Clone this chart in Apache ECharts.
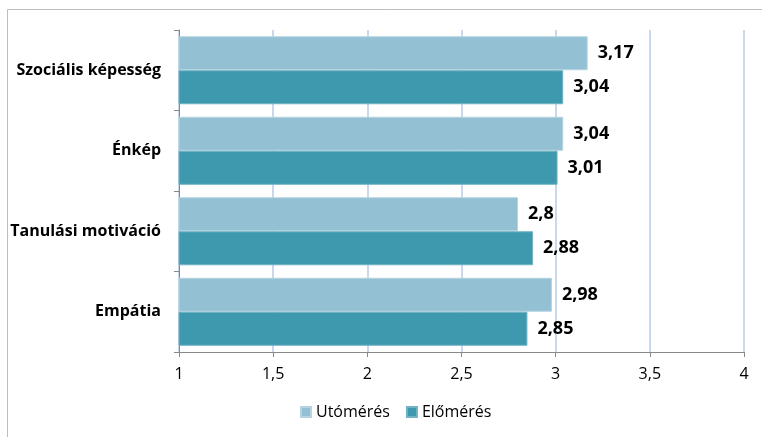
<!DOCTYPE html>
<html>
<head>
<meta charset="utf-8">
<script src="https://cdn.jsdelivr.net/npm/echarts@6/dist/echarts.min.js"></script>
<style>
html, body { margin: 0; padding: 0; background: #fff; }
#chart { width: 762px; height: 437px; }
</style>
</head>
<body>
<div id="chart"></div>
<script>
var categories = ['Empátia', 'Tanulási motiváció', 'Énkép', 'Szociális képesség'];
var utomeres = [2.98, 2.8, 3.04, 3.17];
var elomeres = [2.85, 2.88, 3.01, 3.04];
var seriesNames = ['Utómérés', 'Előmérés'];

var chart = echarts.init(document.getElementById('chart'));
var fontFam = '"Open Sans", "Noto Sans", sans-serif';

function comma(v) {
    return String(v).replace('.', ',');
}

var labelStyle = {
    show: true,
    position: 'right',
    distance: 10,
    fontSize: 18,
    fontWeight: 'bold',
    color: '#000',
    fontFamily: fontFam,
    formatter: function (p) { return comma(p.value); }
};

option = {
    animation: false,
    textStyle: { fontFamily: fontFam },
    graphic: [{
        type: 'polyline',
        shape: { points: [[7.5, 437], [7.5, 9.5], [762, 9.5]] },
        style: { stroke: '#bdbdbd', lineWidth: 1, fill: null }
    }],
    grid: {
        left: 179,
        right: 18,
        top: 30,
        bottom: 85
    },
    legend: {
        data: seriesNames,
        bottom: 12,
        left: 295,
        icon: 'rect',
        itemWidth: 10,
        itemHeight: 10,
        itemGap: 16,
        textStyle: { fontSize: 16, color: '#000', fontFamily: fontFam }
    },
    xAxis: {
        type: 'value',
        min: 1,
        max: 4,
        interval: 0.5,
        axisLine: { show: true, lineStyle: { color: '#888' } },
        axisTick: { show: true, length: 5, lineStyle: { color: '#888' } },
        axisLabel: {
            fontSize: 16,
            color: '#000',
            margin: 14,
            formatter: function (v) { return comma(v); }
        },
        splitLine: { show: true, lineStyle: { color: '#b7cbe6', width: 1.5 } }
    },
    yAxis: {
        type: 'category',
        data: categories,
        axisLine: { show: true, lineStyle: { color: '#888' } },
        axisTick: { show: true, length: 5, lineStyle: { color: '#888' } },
        axisLabel: {
            fontSize: 16,
            fontWeight: 'bold',
            color: '#000',
            margin: 18
        }
    },
    series: [{
        name: seriesNames[0],
        type: 'bar',
        data: utomeres,
        barWidth: 34,
        barGap: '0%',
        itemStyle: { color: '#94c0d4', borderColor: '#b5d4e2', borderWidth: 1 },
        label: labelStyle
    }, {
        name: seriesNames[1],
        type: 'bar',
        data: elomeres,
        barWidth: 34,
        barGap: '0%',
        itemStyle: { color: '#3e98ae', borderColor: '#6fb3c4', borderWidth: 1 },
        label: labelStyle
    }]
};
chart.setOption(option);
</script>
</body>
</html>
